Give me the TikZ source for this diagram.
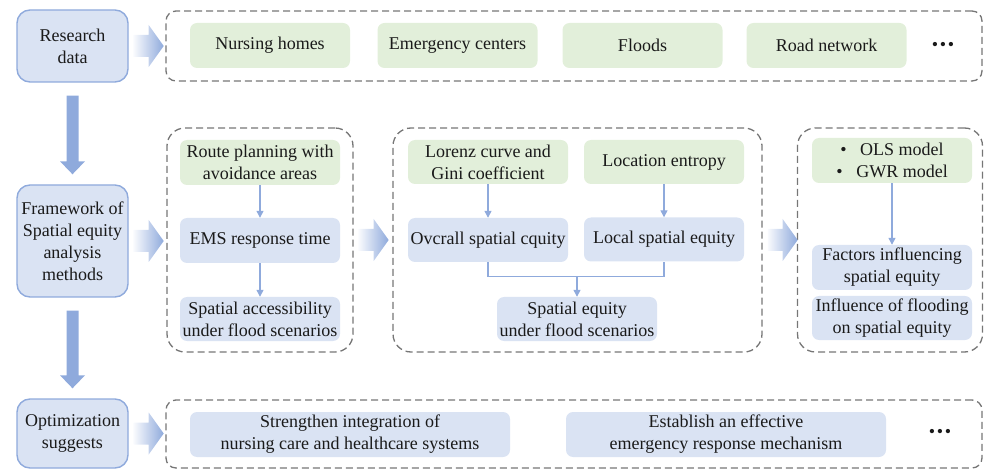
\documentclass[tikz,border=0pt]{standalone}
\usepackage{fontspec}
\setmainfont{Liberation Serif}
\usetikzlibrary{arrows.meta,calc}

\definecolor{bluefill}{HTML}{DAE3F3}
\definecolor{greenfill}{HTML}{E2EFDA}
\definecolor{edgeblue}{HTML}{8FAADC}
\definecolor{dashgray}{HTML}{767676}
\definecolor{ink}{HTML}{1A1A1A}

% wide arrow fading from pale to blue, starting right of a node
\newcommand{\flowright}[1]{%
  \begin{scope}[shift={(#1.east)}]
    \shade[left color=edgeblue!6, right color=edgeblue]
      (5,-11) -- (20,-11) -- (20,-21) -- (35,0) -- (20,21) -- (20,11) -- (5,11) -- cycle;
  \end{scope}}
% solid wide arrow pointing down from one node to the next
\newcommand{\flowdown}[2]{%
  \fill[edgeblue] ($(#1.south)+(-6,13)$) -- ($(#2.north)+(-6,-23)$)
    -- ($(#2.north)+(-12.5,-23)$) -- ($(#2.north)+(0,-10)$)
    -- ($(#2.north)+(12.5,-23)$) -- ($(#2.north)+(6,-23)$)
    -- ($(#1.south)+(6,13)$) -- cycle;}

\tikzset{
  every node/.style={font=\fontsize{18}{22}\selectfont, text=ink},
  base/.style={inner sep=0pt, align=center, minimum width=160pt, minimum height=45pt, rounded corners=7pt},
  gbox/.style={base, fill=greenfill},
  bbox/.style={base, fill=bluefill},
  lbox/.style={base, draw=edgeblue, line width=1.4pt, fill=bluefill, minimum width=111pt, rounded corners=13pt},
  grp/.style={draw=dashgray, line width=1.3pt, dash pattern=on 7pt off 4pt, inner sep=0pt, rounded corners=#1},
  grp/.default=18pt,
  thinarrow/.style={draw=edgeblue, line width=1.3pt, -{Triangle[length=7pt,width=7pt]}},
  thinline/.style={draw=edgeblue, line width=1.3pt},
}

\begin{document}
\begin{tikzpicture}[x=1pt, y=-1pt]
\useasboundingbox (0,0) rectangle (985,470);

% dashed group frames
\node[grp=10pt, minimum width=816pt, minimum height=70pt] (gdata) at (574,46) {};
\node[grp, minimum width=186pt, minimum height=224pt] (gacc) at (260,240) {};
\node[grp, minimum width=369pt, minimum height=224pt] (gequ) at (577.5,240) {};
\node[grp, minimum width=185pt, minimum height=224pt] (gfac) at (890,240) {};
\node[grp=10pt, minimum width=816pt, minimum height=68pt] (gopt) at (574,434) {};

% left column
\node[lbox, minimum height=72pt] (rd) at (72.5,46) {Research\\data};
\node[lbox, minimum height=112pt] (fw) at (72.5,241) {Framework of\\Spatial equity\\analysis\\methods};
\node[lbox, minimum height=69pt] (opt) at (72.5,433.5) {Optimization\\suggests};

% research data
\node[gbox] (nh) at (270,45.5) {Nursing homes};
\node[gbox] (ec) at (457.5,45.5) {Emergency centers};
\node[gbox] (fl) at (642.5,45.5) {Floods};
\node[gbox] (rn) at (826.5,45.5) {Road network};
\node (dots1) at (943,46) {\textbullet\kern1.8pt\textbullet\kern1.8pt\textbullet};

% accessibility
\node[gbox] (route) at (260,162.5) {Route planning with\\avoidance areas};
\node[bbox] (ems) at (260,240.5) {EMS response time};
\node[bbox, minimum height=44pt] (sa) at (260,319) {Spatial accessibility\\under flood scenarios};
\draw[thinarrow] (route) -- (ems);
\draw[thinarrow] (ems) -- (sa);

% equity
\node[gbox, minimum height=44pt] (lor) at (488,162) {Lorenz curve and\\Gini coefficient};
\node[gbox, minimum height=44pt] (le) at (664,162) {Location entropy};
\node[bbox, minimum height=44pt] (ov) at (488,240) {Ovcrall spatial cquity};
\node[bbox, minimum height=44pt] (loc) at (664,239.5) {Local spatial equity};
\node[bbox, minimum height=44pt] (eq) at (577,319) {Spatial equity\\under flood scenarios};
\draw[thinarrow] (lor) -- (ov);
\draw[thinarrow] (le) -- (loc);
\draw[thinline] (ov.south) -- ++(0,14) -| (loc.south);
\coordinate (mj) at ($(eq.north |- ov.south)+(0,14)$);
\draw[thinarrow] (mj) -- (eq.north);

% influencing factors
\node[gbox] (ols) at (892,160.5) {\makebox[20pt][l]{\textbullet}OLS model\\\makebox[20pt][l]{\textbullet}GWR model};
\node[bbox] (fac) at (892,267.5) {Factors influencing\\spatial equity};
\node[bbox, minimum height=44pt] (inf) at (892,318) {Influence of flooding\\on spatial equity};
\draw[thinarrow] (ols) -- (fac);

% optimization
\node[bbox, minimum width=320pt] (st) at (350,434.5) {Strengthen integration of\\nursing care and healthcare systems};
\node[bbox, minimum width=320pt] (es) at (726,434.5) {Establish an effective\\emergency response mechanism};
\node (dots2) at (940,433) {\textbullet\kern1.8pt\textbullet\kern1.8pt\textbullet};

% wide arrows
\flowright{rd}
\flowright{fw}
\flowright{gacc}
\flowright{gequ}
\flowright{opt}
\flowdown{rd}{fw}
\flowdown{fw}{opt}
\end{tikzpicture}
\end{document}
